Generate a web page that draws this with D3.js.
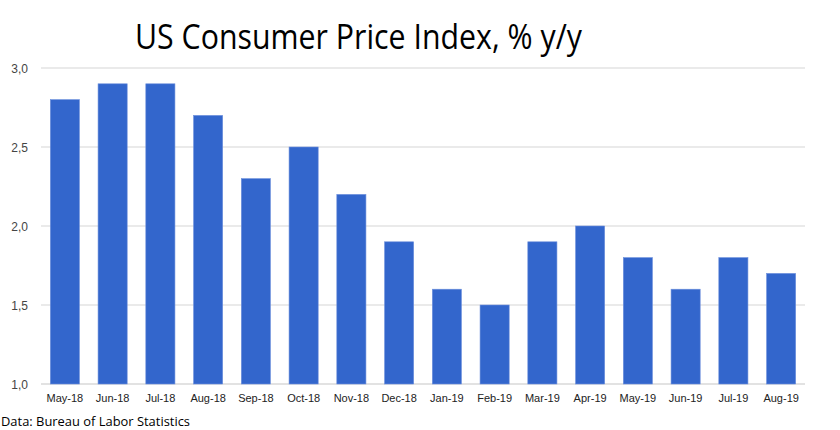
<!DOCTYPE html>
<html><head><meta charset="utf-8">
<script src="https://cdn.jsdelivr.net/npm/d3@7"></script>
<style>body{margin:0;background:#fff}svg{display:block}</style>
</head><body>
<svg id="c" width="840" height="430"></svg>
<script>
const categories = ["May-18","Jun-18","Jul-18","Aug-18","Sep-18","Oct-18","Nov-18","Dec-18","Jan-19","Feb-19","Mar-19","Apr-19","May-19","Jun-19","Jul-19","Aug-19"];
const values = [2.8,2.9,2.9,2.7,2.3,2.5,2.2,1.9,1.6,1.5,1.9,2.0,1.8,1.6,1.8,1.7];
const yTicks = [1.0,1.5,2.0,2.5,3.0];
const title = "US Consumer Price Index, % y/y";
const source = "Data: Bureau of Labor Statistics";

const svg = d3.select("#c");
const x = d3.scaleBand().domain(categories).range([41,805]).paddingInner(0.39).paddingOuter(0.195);
const y = d3.scaleLinear().domain([1,3]).range([384,68]);

const grid = svg.append("g");
grid.selectAll("line").data(yTicks).join("line")
  .attr("x1",41).attr("x2",805)
  .attr("y1",d=>y(d)).attr("y2",d=>y(d))
  .attr("stroke",d=>d===1?"#d9d9d9":"#e3e3e3").attr("stroke-width",1.5);

const yAxis = svg.append("g").attr("transform","translate(28,0)")
  .call(d3.axisLeft(y).tickValues(yTicks).tickSize(0).tickPadding(0).tickFormat(d=>d3.format(".1f")(d).replace(".",",")));
yAxis.select(".domain").remove();
yAxis.selectAll("text").attr("font-family","Liberation Sans, Arial, sans-serif").attr("font-size",12).attr("fill","#444").attr("dy","0.35em");

svg.append("g").selectAll("rect").data(values).join("rect")
  .attr("x",(d,i)=>x(categories[i])).attr("width",x.bandwidth())
  .attr("y",d=>y(d)).attr("height",d=>y(1)-y(d))
  .attr("fill","#3366cc").attr("stroke","#6e90dc").attr("stroke-width",0.6);

const xAxis = svg.append("g").attr("transform","translate(0,384)")
  .call(d3.axisBottom(x).tickSize(0).tickPadding(10));
xAxis.select(".domain").remove();
xAxis.selectAll("text").attr("font-family","Liberation Sans, Arial, sans-serif").attr("font-size",11).attr("fill","#222");

svg.append("text").attr("x",135).attr("y",49).text(title)
  .attr("font-family","Open Sans, sans-serif").attr("font-size",34).attr("fill","#000")
  .attr("textLength",447).attr("lengthAdjust","spacingAndGlyphs");

svg.append("text").attr("x",1).attr("y",426).text(source)
  .attr("font-family","Open Sans, sans-serif").attr("font-size",12).attr("fill","#000")
  .attr("textLength",189).attr("lengthAdjust","spacingAndGlyphs");
</script>
</body></html>
